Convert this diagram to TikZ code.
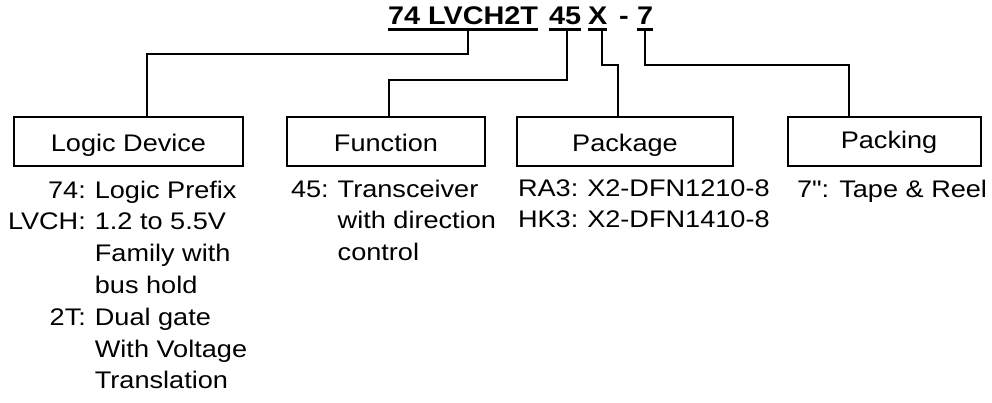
\documentclass[tikz,border=0pt]{standalone}
\usepackage{fontspec}
\setmainfont{Liberation Sans}[FakeStretch=1.13]
\newfontfamily\qfont{Liberation Sans}[FakeStretch=1.13]
\begin{document}
\begin{tikzpicture}[x=1pt,y=-1pt,
  conn/.style={line width=2pt},
  uline/.style={line width=2.2pt},
  ttl/.style={font=\bfseries\fontsize{25.5}{30}\selectfont, inner sep=0pt, outer sep=0pt, anchor=base west, text depth=0pt},
  box/.style={draw, line width=2pt, minimum height=49pt, inner sep=0pt, outer sep=0pt,
    text height=19pt, text depth=0pt, font=\fontsize{24}{30}\selectfont, anchor=north west},
  desc/.style={font=\fontsize{24}{31.8}\selectfont, inner sep=0pt, outer sep=0pt, anchor=base west}]
\useasboundingbox (0,0) rectangle (992,402);
% title
\node[ttl] (t1) at (388,24.5) {74 LVCH2T};
\node[ttl] (t2) at (549,24.5) {45};
\node[ttl] (t3) at (588,24.5) {X};
\node[ttl] (t4) at (619,24.5) {-};
\node[ttl] (t5) at (637,24.5) {7};
\foreach \n in {t1,t2,t3,t5}
  \draw[uline] ([yshift=-5pt]\n.south west) -- ([yshift=-5pt]\n.south east);
\coordinate (u1) at ([xshift=5pt,yshift=-5pt]t1.south);
\coordinate (u2) at ([xshift=2pt,yshift=-5pt]t2.south);
\coordinate (u3) at ([xshift=4pt,yshift=-5pt]t3.south);
\coordinate (u4) at ([yshift=-5pt]t5.south);
% boxes
\node[box, minimum width=229pt] (ld) at (14,117) {Logic Device};
\node[box, minimum width=198pt] (fn) at (287,117) {Function};
\node[box, minimum width=216pt] (pk) at (517,117) {Package};
\node[box, minimum width=193pt, text height=13pt] (pc) at (788,117) {\hspace*{9pt}Packing};
% connectors
\draw[conn] (u1) -- ++(0,24) -| ([xshift=18.5pt]ld.north);
\draw[conn] (u2) -- ++(0,50.5) -| ([xshift=3pt]fn.north);
\draw[conn] (u3) -- ++(0,35.5) -| ([xshift=-7.5pt]pk.north);
\draw[conn] (u4) -- ++(0,35.5) -| ([xshift=-35.5pt]pc.north);
% descriptions
\node[desc] (ldd) at (8,198) {\begin{tabular}[t]{@{}r@{\hspace{9pt}}l@{}}
74: & Logic Prefix\\
LVCH: & 1.2 to 5.5V\\
 & Family with\\
 & bus hold\\
2T: & Dual gate\\
 & With Voltage\\
 & Translation
\end{tabular}};
\node[desc] (fnd) at (291,197) {\begin{tabular}[t]{@{}r@{\hspace{9pt}}l@{}}
45: & Transceiver\\
 & with direction\\
 & control
\end{tabular}};
\node[desc] (pkd) at (518,196) {\begin{tabular}[t]{@{}l@{\hspace{9pt}}l@{}}
RA3: & X2-DFN1210-8\\
HK3: & X2-DFN1410-8
\end{tabular}};
\node[desc, font=\qfont\fontsize{24}{31.8}\selectfont] (pcd) at (797,197) {7": Tape \& Reel};
\end{tikzpicture}
\end{document}
